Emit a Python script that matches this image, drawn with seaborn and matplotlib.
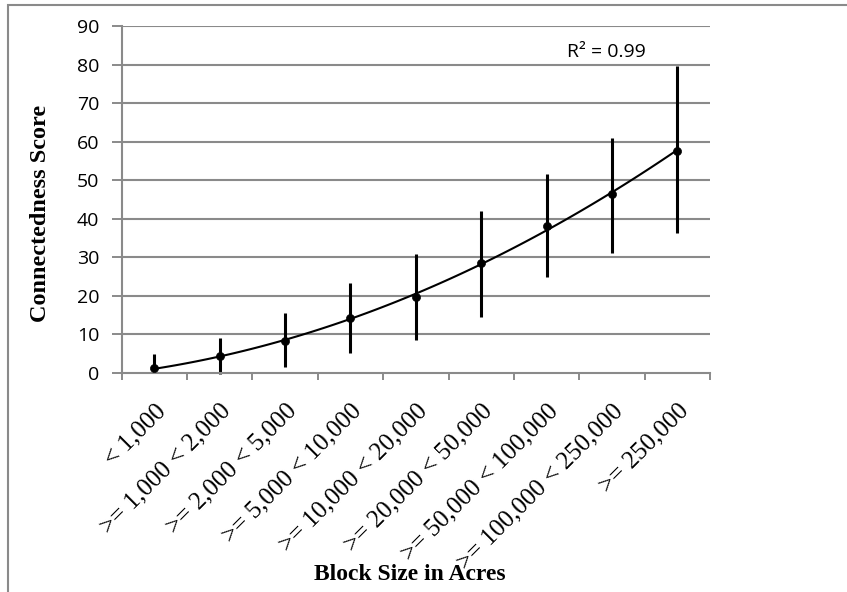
import numpy as np
import pandas as pd
import seaborn as sns
import matplotlib.pyplot as plt
import matplotlib.transforms as mtrans
from matplotlib.patches import Rectangle

# block size classes and connectedness scores
size_labels = ["< 1,000", ">= 1,000 < 2,000", ">= 2,000 < 5,000", ">= 5,000 < 10,000",
               ">= 10,000 < 20,000", ">= 20,000 < 50,000", ">= 50,000 < 100,000",
               ">= 100,000 < 250,000", ">= 250,000"]
score_mean = [1.1, 4.4, 8.3, 14.1, 19.6, 28.4, 38.1, 46.5, 57.6]
score_low = [0.0, -0.4, 1.5, 5.0, 8.4, 14.5, 24.9, 31.2, 36.2]
score_high = [4.8, 9.1, 15.6, 23.4, 30.8, 41.9, 51.7, 61.0, 79.6]
y_ticks = [0, 10, 20, 30, 40, 50, 60, 70, 80, 90]
r2_text = "R² = 0.99"

df = pd.DataFrame({"pos": np.arange(len(size_labels)), "score": score_mean,
                   "low": score_low, "high": score_high})

sns.set_style("white")
plt.rcParams["text.color"] = "black"
grey = "#8a8a8a"
serif = "Liberation Serif"
sans = "Open Sans"

fig = plt.figure(figsize=(8.47, 5.92), dpi=100)
ax = fig.add_axes([0.1436, 0.3704, 0.6947, 0.5857])

# gridlines
for v in y_ticks[1:]:
    ax.axhline(v, color=grey, lw=1.5, zorder=0)

# error bars
ax.vlines(df["pos"], df["low"], df["high"], color="black", lw=2.2, zorder=2, clip_on=False)

# 2nd order polynomial trend line
sns.regplot(data=df, x="pos", y="score", order=2, ci=None, scatter=False,
            line_kws={"color": "black", "lw": 1.5, "zorder": 3}, ax=ax)

sns.scatterplot(data=df, x="pos", y="score", color="black", s=34, edgecolor="black",
                zorder=4, ax=ax, clip_on=False)

ax.set_xlim(-0.5, len(size_labels) - 0.5)
ax.set_ylim(0, 90)
ax.set_yticks(y_ticks)
ax.set_yticklabels([str(v) for v in y_ticks], fontfamily=sans, fontsize=14, color="black")

# category boundaries as major ticks, labels at centres
ax.set_xticks(np.arange(len(size_labels) + 1) - 0.5)
ax.set_xticklabels([])
ax.set_xticks(np.arange(len(size_labels)), minor=True)
ax.set_xticklabels(size_labels, minor=True, rotation=45, ha="right", va="top",
                   rotation_mode="anchor", fontfamily=serif, fontsize=18, color="black")
shift = mtrans.ScaledTranslation(-4 / 100, 0, fig.dpi_scale_trans)
for lab in ax.get_xticklabels(minor=True):
    lab.set_transform(lab.get_transform() + shift)
ax.tick_params(axis="x", which="major", direction="out", length=5, width=1.4,
               color=grey, bottom=True)
ax.tick_params(axis="x", which="minor", length=0, pad=19.5, bottom=True)
ax.tick_params(axis="y", direction="out", length=7, width=1.4, color=grey, pad=9, left=True)

for side in ["top", "right"]:
    ax.spines[side].set_visible(False)
for side in ["left", "bottom"]:
    ax.spines[side].set_color(grey)
    ax.spines[side].set_linewidth(1.5)

ax.set_xlabel("")
ax.set_ylabel("")
fig.text(410 / 847, 1 - 575 / 592, "Block Size in Acres", ha="center", va="center",
         fontfamily=serif, fontweight="bold", fontsize=17)
fig.text(40 / 847, 1 - 213 / 592, "Connectedness Score", ha="center", va="center",
         rotation=90, fontfamily=serif, fontweight="bold", fontsize=17.5)

ax.text(6.92, 83.2, r2_text, ha="center", va="center", fontfamily=sans, fontsize=14)

# chart area border
fig.patches.append(Rectangle((8 / 847, -0.1), 1.2, 1.1 - 5 / 592, transform=fig.transFigure,
                             fill=False, edgecolor=grey, lw=1.5, clip_on=False))

fig.savefig("out.png", dpi=100)
